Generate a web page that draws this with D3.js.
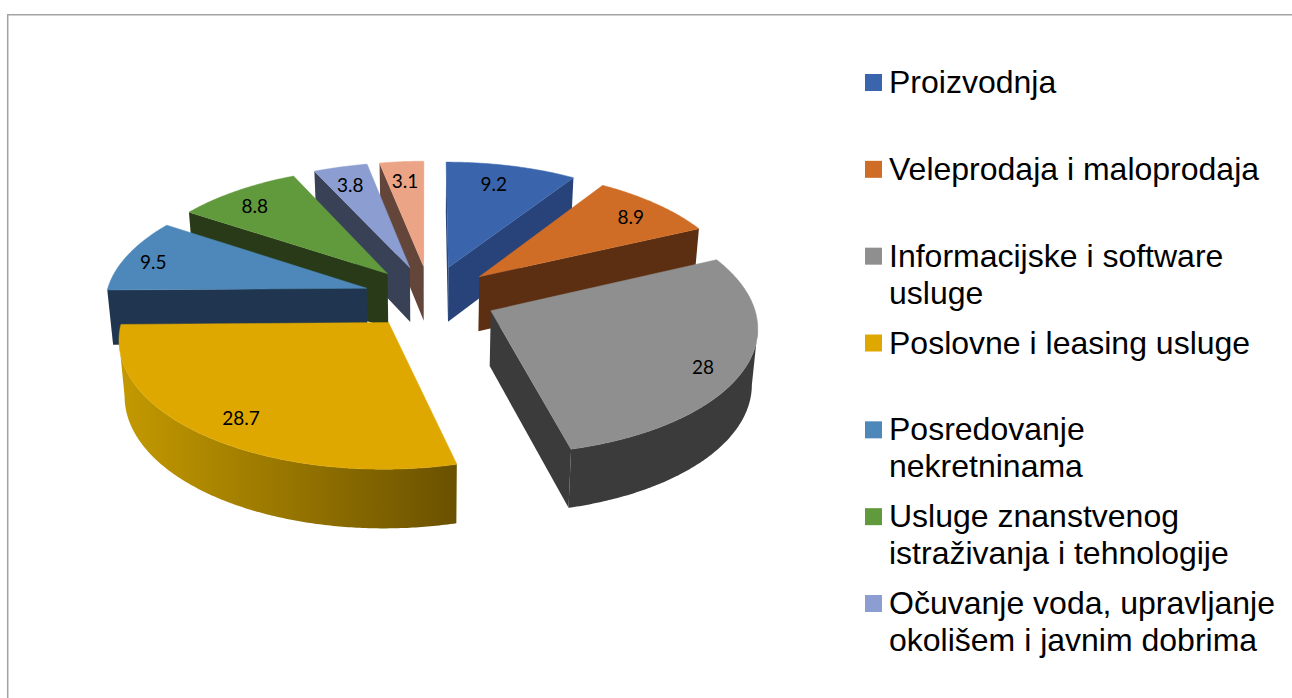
<!DOCTYPE html>
<html>
<head>
<meta charset="utf-8">
<script src="https://cdnjs.cloudflare.com/ajax/libs/d3/7.8.5/d3.min.js"></script>
<style>
  html, body { margin: 0; padding: 0; background: #fff; overflow: hidden; }
  svg { display: block; }
</style>
</head>
<body>
<div id="chart"></div>
<script>
// Chart data
var sliceValues = [9.2, 8.9, 28, 28.7, 9.5, 8.8, 3.8, 3.1];
var topColors = ["#3a64ab", "#cf6d27", "#8f8f8f", "#dfa800", "#4e88ba", "#619a3d", "#8b9dd1", "#eca486"];
var wallColors = ["#27437a", "#5c2f12", "#3b3b3b", "url(#yellowWall)", "#203650", "#283a18", "#394157", "#63453a"];
var legendLabels = [
  ["Proizvodnja"],
  ["Veleprodaja i maloprodaja"],
  ["Informacijske i software", "usluge"],
  ["Poslovne i leasing usluge"],
  ["Posredovanje", "nekretninama"],
  ["Usluge znanstvenog", "istraživanja i tehnologije"],
  ["Očuvanje voda, upravljanje", "okolišem i javnim dobrima"]
];
// Slices are painted back to front
var drawOrder = [7, 6, 5, 4, 0, 1, 2, 3];

var svgWidth = 1292;
var svgHeight = 698;

// Pie geometry, fitted to the picture
var centerX = 430;
var centerY = 297;
var radius = 261;
var explode = 66.5;
var squash = 0.474;
var cameraDist = 2300;
var wallHeight = 55;
var wallTaper = 0.982;
var labelRadius = 0.83;
var labelDrop = 3;
var rotation = -0.1 * Math.PI / 180;
// Small shifts of the data labels, the original places them by hand
var labelNudgeX = [-8, 3, 3, 2, -14, -6, -1, 0];
var labelNudgeY = [-1, -2, 6, 0, -2, -2, -1, -1];

var svg = d3.select("#chart").append("svg")
            .attr("width", svgWidth)
            .attr("height", svgHeight);

// Frame, open to the right and the bottom
svg.append("path")
   .attr("d", "M7.7,698V14.7H1292")
   .attr("fill", "none")
   .attr("stroke", "#a3a3a3")
   .attr("stroke-width", 1.5);

var gradient = svg.append("defs").append("linearGradient").attr("id", "yellowWall");
gradient.append("stop").attr("offset", "0%").attr("stop-color", "#c49a00");
gradient.append("stop").attr("offset", "100%").attr("stop-color", "#6a5100");

var topColor = d3.scaleOrdinal().domain(d3.range(sliceValues.length)).range(topColors);
var wallColor = d3.scaleOrdinal().domain(d3.range(sliceValues.length)).range(wallColors);

var pie = d3.pie().sort(null).startAngle(rotation).endAngle(rotation + 2 * Math.PI);
var arcs = pie(sliceValues);

var polygon = d3.line().x(d => d.x).y(d => d.y);

// Ground plane to screen, with a little perspective
function project(u, v) {
  var s = 1 / (1 + v / cameraDist);
  return { x: centerX + u * s, y: centerY - squash * v * s, s: s };
}

// Same point at the bottom of the wall
function drop(p) {
  return { x: centerX + (p.x - centerX) * wallTaper, y: p.y + wallHeight * Math.sqrt(p.s) };
}

// Point of a slice, r as part of the radius
function slicePoint(d, angle, r) {
  var mid = (d.startAngle + d.endAngle) / 2;
  var u = explode * Math.sin(mid) + r * radius * Math.sin(angle);
  var v = explode * Math.cos(mid) + r * radius * Math.cos(angle);
  return project(u, v);
}

function wallPath(points) {
  return polygon(points.concat(points.map(drop).reverse())) + "Z";
}

function cutVisible(apex, outer, inside) {
  var dx = outer.x - apex.x;
  var dy = outer.y - apex.y;
  var cross = dx * (inside.y - apex.y) - dy * (inside.x - apex.x);
  return (cross > 0) !== (dx > 0);
}

drawOrder.forEach(function(i) {
  var d = arcs[i];
  var mid = (d.startAngle + d.endAngle) / 2;
  var apex = slicePoint(d, mid, 0);
  var inside = slicePoint(d, mid, 0.6);
  var steps = Math.ceil((d.endAngle - d.startAngle) / 0.01);
  var rim = d3.range(steps + 1).map(k => slicePoint(d, d.startAngle + (d.endAngle - d.startAngle) * k / steps, 1));
  var group = svg.append("g");

  // The two cut faces
  [rim[0], rim[steps]].forEach(function(outer) {
    if (cutVisible(apex, outer, inside)) {
      group.append("path")
           .attr("d", wallPath([apex, outer]))
           .attr("fill", i === 3 ? "#6a5100" : wallColor(i));
    }
  });

  // Rim face, only where it turns to the viewer
  var front = rim.filter((p, k) => (k > 0 && rim[k - 1].x > p.x) || (k < steps && p.x > rim[k + 1].x));
  if (front.length > 1) {
    group.append("path")
         .attr("d", wallPath(front))
         .attr("fill", wallColor(i));
  }

  // Top face
  group.append("path")
       .attr("d", polygon([apex].concat(rim)) + "Z")
       .attr("fill", topColor(i))
       .attr("stroke", topColor(i))
       .attr("stroke-width", 0.5);
});

// Data labels
arcs.forEach(function(d, i) {
  var p = slicePoint(d, (d.startAngle + d.endAngle) / 2, labelRadius);
  svg.append("text")
     .attr("x", p.x + labelNudgeX[i])
     .attr("y", p.y + labelDrop + labelNudgeY[i])
     .attr("text-anchor", "middle")
     .attr("dominant-baseline", "central")
     .attr("font-family", "Lato, sans-serif")
     .attr("font-size", "19px")
     .attr("fill", "#000")
     .text(d.value);
});

// Legend
var legendY = d3.scalePoint().domain(d3.range(legendLabels.length)).range([74, 595]);
legendLabels.forEach(function(lines, i) {
  svg.append("rect")
     .attr("x", 865)
     .attr("y", legendY(i))
     .attr("width", 17)
     .attr("height", 17)
     .attr("fill", topColor(i));
  lines.forEach(function(line, k) {
    svg.append("text")
       .attr("x", 889)
       .attr("y", legendY(i) + 19 + k * 37)
       .attr("font-family", "'Liberation Sans', Arial, sans-serif")
       .attr("font-size", "32px")
       .attr("fill", "#000")
       .text(line);
  });
});
</script>
</body>
</html>
